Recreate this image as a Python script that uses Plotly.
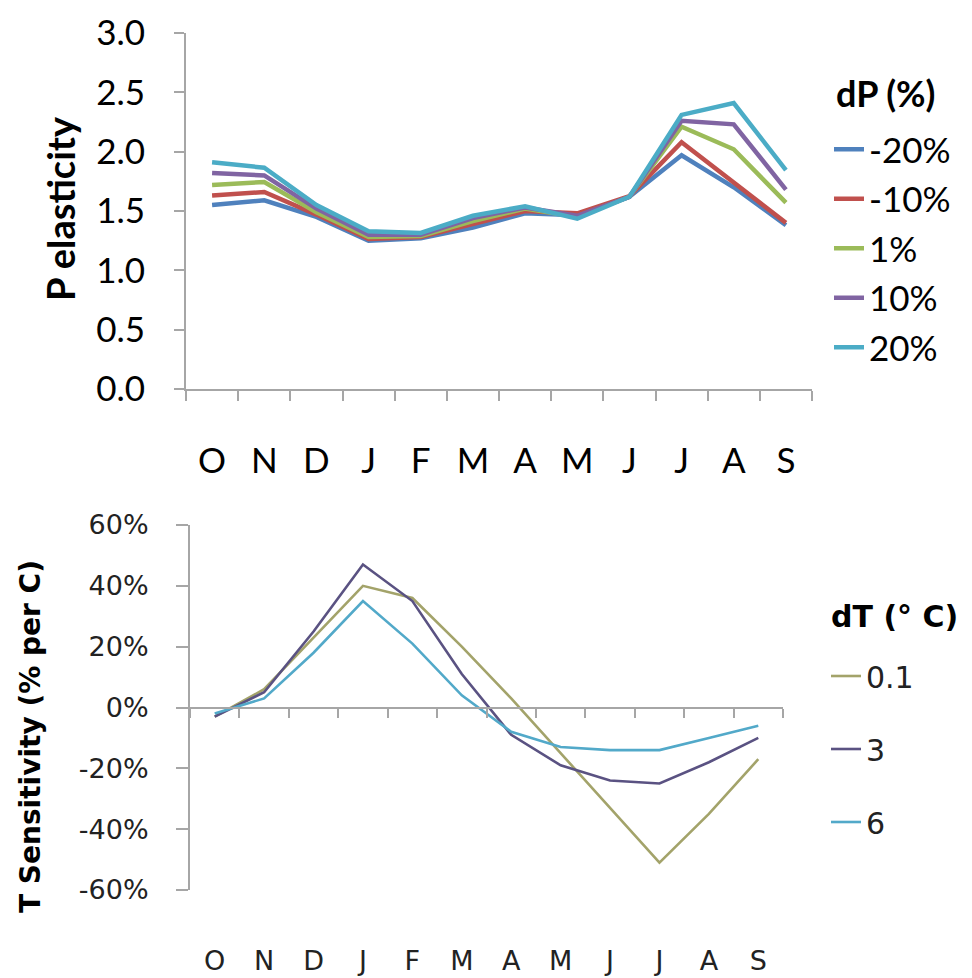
import plotly.graph_objects as go

W, H = 972, 978
OFF = 8  # page body offset of the plot div

months = ["O", "N", "D", "J", "F", "M", "A", "M", "J", "J", "A", "S"]

# Top chart: P elasticity by dP (%)
dp_names = ["-20%", "-10%", "1%", "10%", "20%"]
dp_colors = ["#4f81bd", "#c0504d", "#9bbb59", "#8064a2", "#4bacc6"]
p_m20 = [1.55, 1.59, 1.45, 1.25, 1.27, 1.36, 1.48, 1.465, 1.62, 1.97, 1.70, 1.38]
p_m10 = [1.63, 1.66, 1.47, 1.265, 1.28, 1.39, 1.50, 1.48, 1.625, 2.08, 1.74, 1.40]
p_p01 = [1.72, 1.745, 1.49, 1.28, 1.29, 1.415, 1.52, 1.45, 1.62, 2.21, 2.02, 1.57]
p_p10 = [1.82, 1.80, 1.52, 1.30, 1.30, 1.44, 1.53, 1.46, 1.62, 2.26, 2.23, 1.68]
p_p20 = [1.91, 1.865, 1.55, 1.33, 1.315, 1.46, 1.54, 1.435, 1.62, 2.31, 2.41, 1.845]
p_series = [p_m20, p_m10, p_p01, p_p10, p_p20]
p_ticks = [0.0, 0.5, 1.0, 1.5, 2.0, 2.5, 3.0]

# Bottom chart: T sensitivity (% per C) by dT
dt_names = ["0.1", "3", "6"]
dt_colors = ["#a3a36a", "#5a5282", "#52a9c9"]
t_01 = [-3, 6, 23, 40, 36, 20, 3, -15, -33, -51, -35, -17]
t_3 = [-3, 5, 25, 47, 35, 11, -9, -19, -24, -25, -18, -10]
t_6 = [-2, 3, 18, 35, 21, 4, -8, -13, -14, -14, -10, -6]
t_series = [t_01, t_3, t_6]
t_tickvals = [-60, -40, -20, 0, 20, 40, 60]
t_ticktext = ["-60%", "-40%", "-20%", "0%", "20%", "40%", "60%"]

xs = list(range(len(months)))
bounds = [i - 0.5 for i in range(len(months) + 1)]


def px_x(p):
    return (p - OFF) / W


def px_y(p):
    return 1 - (p - OFF) / H


top_xd = [px_x(186), px_x(812)]
top_yd = [px_y(389), px_y(33)]
bot_xd = [px_x(190), px_x(783)]
bot_yd = [px_y(890), px_y(525)]
zero_pos = (bot_yd[0] + bot_yd[1]) / 2

fig = go.Figure()

for i, (name, col, vals) in enumerate(zip(dp_names, dp_colors, p_series)):
    fig.add_trace(go.Scatter(x=xs, y=vals, mode="lines", name=name,
                             line=dict(color=col, width=4.5),
                             xaxis="x" if i == 0 else "x3", yaxis="y",
                             legend="legend", legendgroup=name))

for i, (name, col, vals) in enumerate(zip(dt_names, dt_colors, t_series)):
    fig.add_trace(go.Scatter(x=xs, y=vals, mode="lines", name=name,
                             line=dict(color=col, width=2.6),
                             xaxis="x2" if i == 0 else "x4", yaxis="y2",
                             legend="legend2", legendgroup="t" + name))

axis_gray = "#a6a6a6"
top_font = dict(family="Lato", size=35, color="black")
bot_font = dict(family="DejaVu Sans", size=27, color="#222222")
bot_leg_font = dict(family="DejaVu Sans", size=30, color="#222222")

fig.update_layout(
    width=W, height=H,
    margin=dict(l=0, r=0, t=0, b=0, autoexpand=False),
    paper_bgcolor="white", plot_bgcolor="white",
    showlegend=True,
    xaxis=dict(domain=top_xd, anchor="y", range=[-0.5, 11.5],
               tickmode="array", tickvals=bounds, showticklabels=False,
               ticks="outside", ticklen=10, tickwidth=2, tickcolor=axis_gray,
               showline=True, linecolor=axis_gray, linewidth=2,
               showgrid=False, zeroline=False, automargin=False),
    xaxis3=dict(overlaying="x", anchor="y", range=[-0.5, 11.5],
                tickmode="array", tickvals=xs, ticktext=months,
                ticks="outside", ticklen=41, tickcolor="rgba(0,0,0,0)",
                tickfont=top_font, showline=False, showgrid=False,
                zeroline=False, automargin=False),
    yaxis=dict(domain=top_yd, anchor="x", range=[0, 3],
               tickmode="array", tickvals=p_ticks, tickformat=".1f",
               ticks="outside", ticklen=10, tickwidth=2, tickcolor=axis_gray,
               ticklabelstandoff=22, ticklabeloverflow="allow",
               tickfont=top_font, showline=True, linecolor=axis_gray,
               linewidth=2, showgrid=False, zeroline=False, automargin=False),
    xaxis2=dict(domain=bot_xd, anchor="free", position=zero_pos,
                range=[-0.5, 11.5], tickmode="array", tickvals=bounds,
                showticklabels=False, ticks="outside", ticklen=9,
                tickwidth=2, tickcolor=axis_gray, showline=True,
                linecolor=axis_gray, linewidth=2, showgrid=False,
                zeroline=False, automargin=False),
    xaxis4=dict(overlaying="x2", anchor="y2", range=[-0.5, 11.5],
                tickmode="array", tickvals=xs, ticktext=months,
                ticks="outside", ticklen=47, tickcolor="rgba(0,0,0,0)",
                tickfont=bot_font, showline=False, showgrid=False,
                zeroline=False, automargin=False),
    yaxis2=dict(domain=bot_yd, anchor="x2", range=[-60, 60],
                tickmode="array", tickvals=t_tickvals, ticktext=t_ticktext,
                ticks="outside", ticklen=12, tickwidth=2, tickcolor=axis_gray,
                ticklabelstandoff=22, ticklabeloverflow="allow",
                tickfont=bot_font, showline=True, linecolor=axis_gray,
                linewidth=2, showgrid=False, zeroline=False, automargin=False),
    legend=dict(x=px_x(829), y=px_y(120), xanchor="left", yanchor="top",
                font=top_font, traceorder="grouped", tracegroupgap=1,
                bgcolor="rgba(0,0,0,0)", itemwidth=30),
    legend2=dict(x=px_x(826), y=px_y(650), xanchor="left", yanchor="top",
                 font=bot_leg_font, traceorder="grouped", tracegroupgap=31,
                 bgcolor="rgba(0,0,0,0)", itemwidth=30),
    annotations=[
        dict(text="<b>dP (%)</b>", x=px_x(834), y=px_y(93),
             xref="paper", yref="paper", showarrow=False,
             font=dict(family="Lato", size=36, color="black"),
             xanchor="left", yanchor="middle"),
        dict(text="<b>dT (° C)</b>", x=px_x(829), y=px_y(616),
             xref="paper", yref="paper", showarrow=False,
             font=dict(family="DejaVu Sans", size=30, color="black"),
             xanchor="left", yanchor="middle"),
        dict(text="<b>P elasticity</b>", x=px_x(60), y=px_y(209),
             xref="paper", yref="paper", textangle=-90, showarrow=False,
             font=dict(family="Lato", size=38, color="black"),
             xanchor="center", yanchor="middle"),
        dict(text="<b>T Sensitivity (% per C)</b>", x=px_x(30), y=px_y(737),
             xref="paper", yref="paper", textangle=-90, showarrow=False,
             font=dict(family="DejaVu Sans", size=28, color="black"),
             xanchor="center", yanchor="middle"),
    ],
)

fig.write_html("out.html")
